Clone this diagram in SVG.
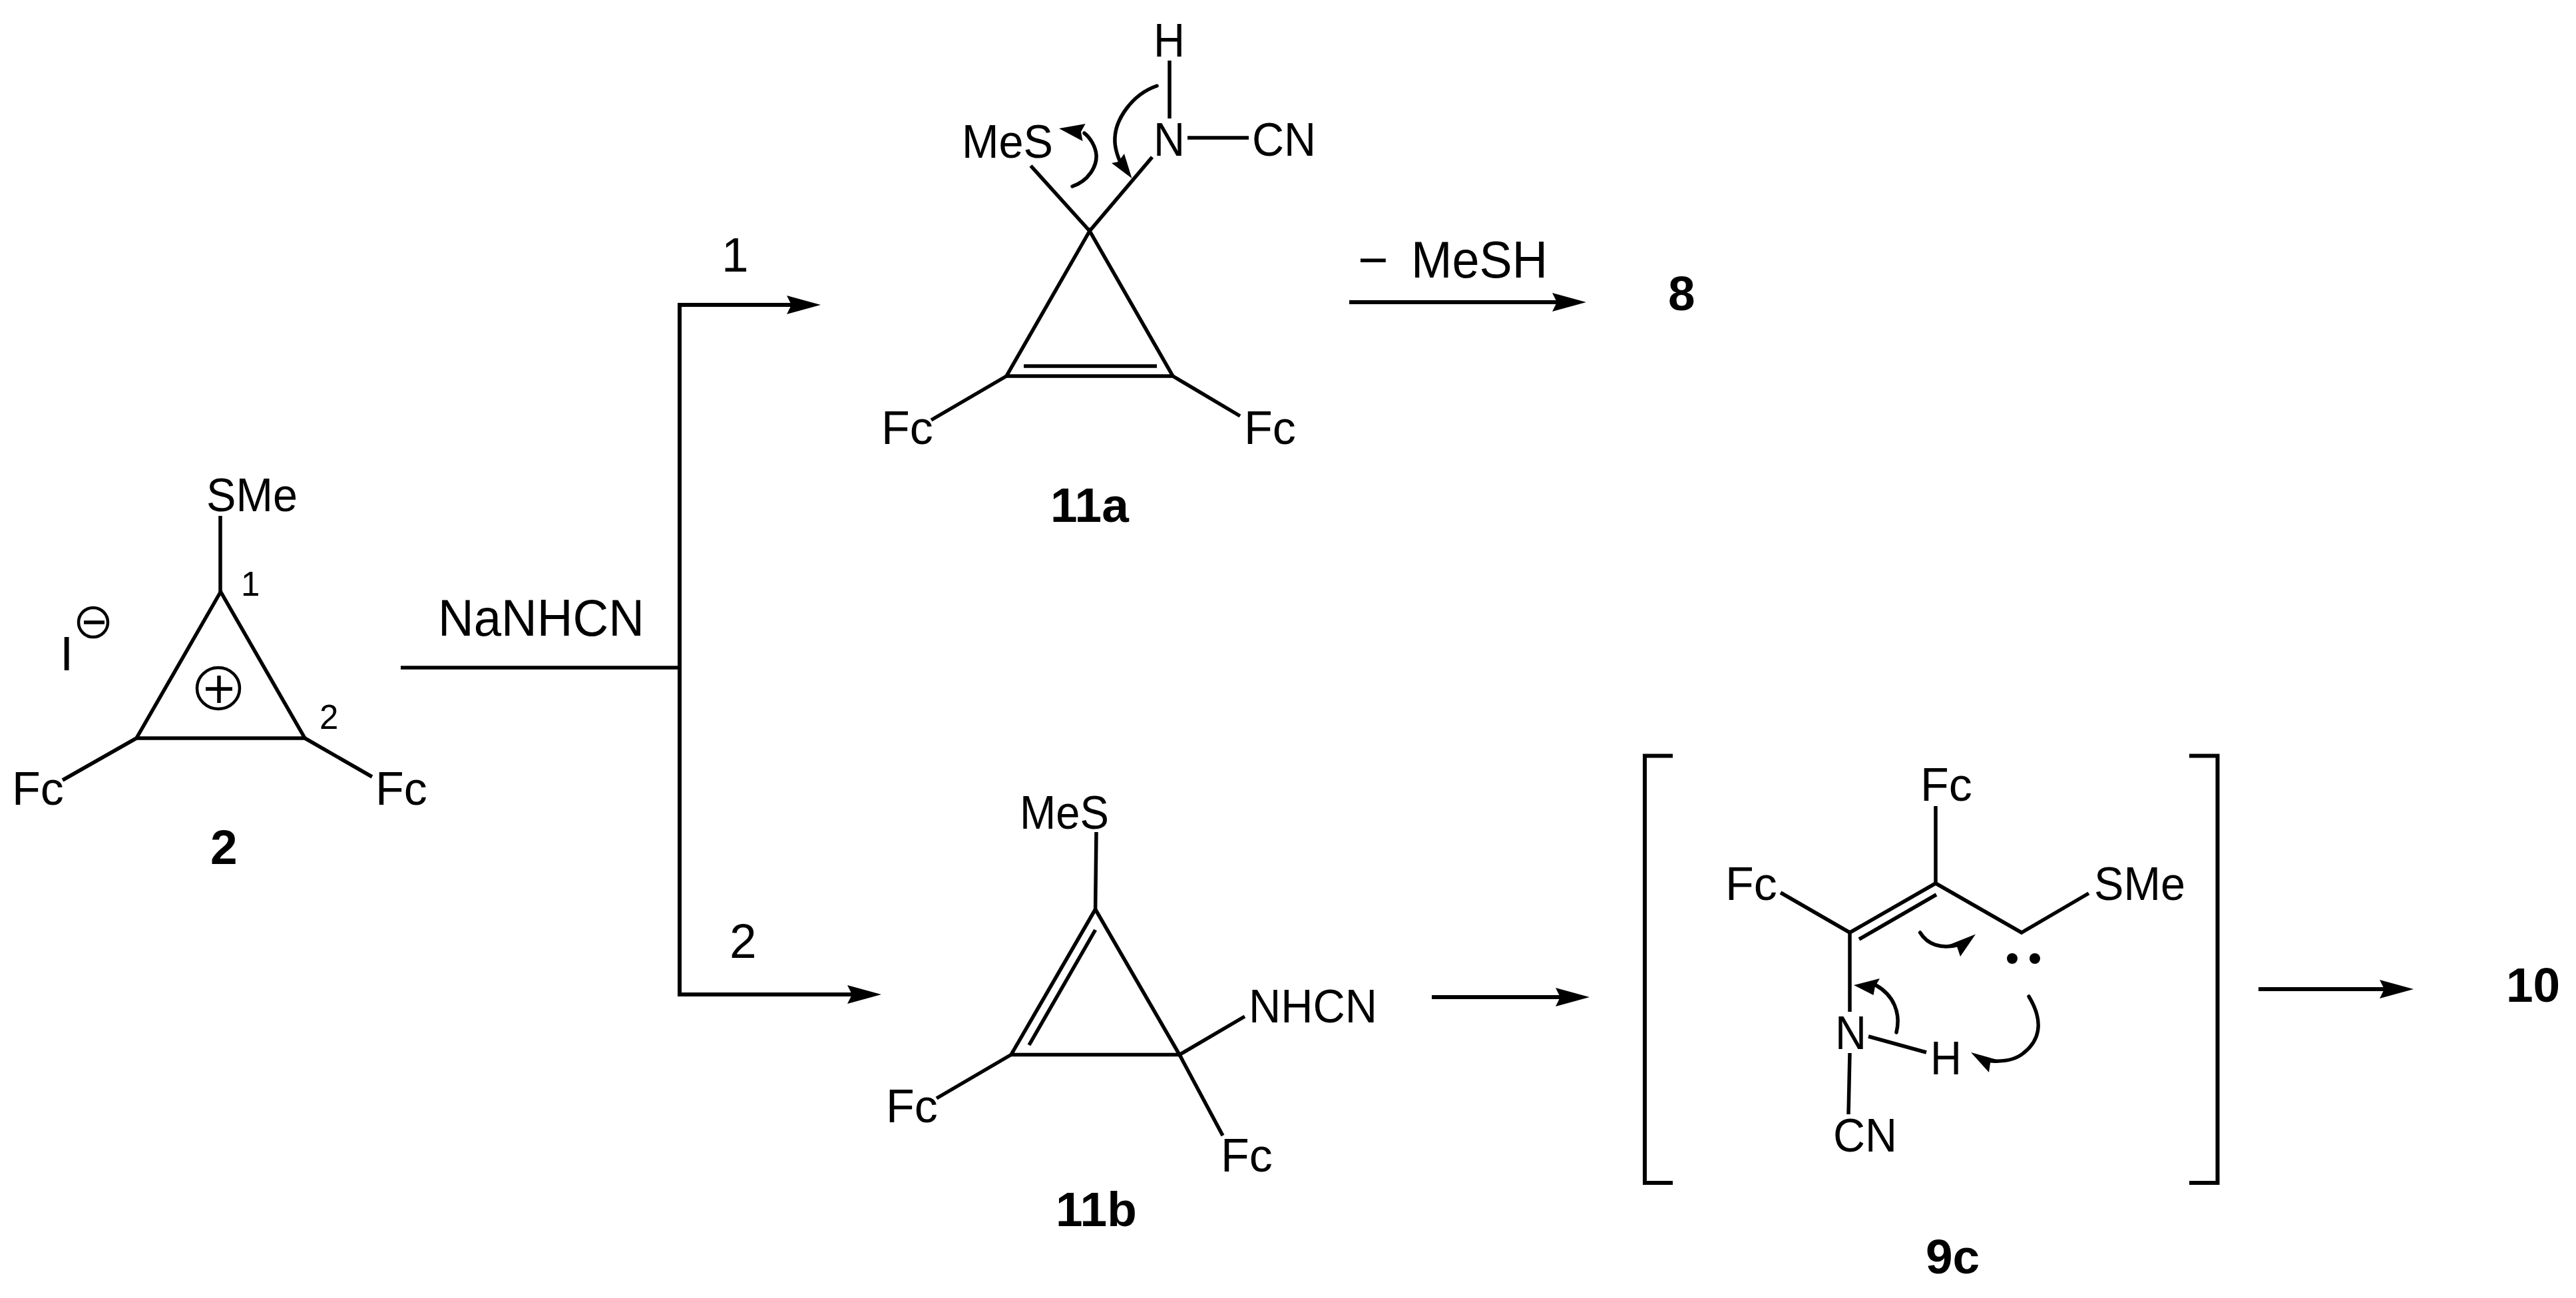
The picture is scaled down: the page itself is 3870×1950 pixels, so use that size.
<svg xmlns="http://www.w3.org/2000/svg" width="3870" height="1950" viewBox="0 0 3870 1950">
<style>
text{font-family:"Liberation Sans",Arial,sans-serif;font-size:70px;fill:#000}
.b{font-weight:700;font-size:73px}
.n{font-size:73px}
.r{font-size:78px}
.s{font-size:51px}
line,polyline{fill:none;stroke:#000;stroke-width:5.5}
.tri{fill:none;stroke:#000;stroke-width:5.5}
.th{stroke-width:6}
path.c{fill:none;stroke:#000;stroke-width:5.5;stroke-linecap:round}
.hd{fill:#000;stroke:none}
ellipse{fill:none;stroke:#000;stroke-width:4.5}
</style>
<defs>
<marker id="ah" markerUnits="userSpaceOnUse" markerWidth="52" markerHeight="30" refX="10" refY="14" orient="auto">
<path d="M0,0 L51,14 L0,28 L7,14Z" fill="#000"/>
</marker>
</defs>
<rect width="3870" height="1950" fill="#fff"/>
<g id="connectors">
<line x1="602" y1="1003" x2="1021" y2="1003"/>
<line class="th" x1="1021" y1="455" x2="1021" y2="1497"/>
<line class="th" x1="1021" y1="458" x2="1192" y2="458" marker-end="url(#ah)"/>
<line class="th" x1="1021" y1="1494" x2="1283" y2="1494" marker-end="url(#ah)"/>
<line class="th" x1="2027" y1="454" x2="2342" y2="454" marker-end="url(#ah)"/>
<line class="th" x1="2151" y1="1498" x2="2347" y2="1498" marker-end="url(#ah)"/>
<line class="th" x1="3393" y1="1486" x2="3585" y2="1486" marker-end="url(#ah)"/>
</g>
<g id="label-nanhcn"><text class="r" x="658" y="955" textLength="310" lengthAdjust="spacingAndGlyphs">NaNHCN</text></g>
<g id="label-route1"><text class="n" x="1084" y="408">1</text></g>
<g id="label-route2"><text class="n" x="1096" y="1439">2</text></g>
<g id="label-mesh">
<text class="r" x="2040" y="417">−</text>
<text class="r" x="2120" y="417" textLength="205" lengthAdjust="spacingAndGlyphs">MeSH</text>
</g>
<g id="compound-2">
<text x="310" y="768" textLength="137" lengthAdjust="spacingAndGlyphs">SMe</text>
<line x1="331" y1="775" x2="331" y2="889"/>
<polygon class="tri" points="331.5,889 205,1109 458,1109"/>
<line x1="205" y1="1109" x2="94" y2="1172"/>
<line x1="458" y1="1109" x2="559" y2="1167"/>
<text x="18" y="1209">Fc</text>
<text x="564" y="1209">Fc</text>
<text class="s" x="362" y="895">1</text>
<text class="s" x="480" y="1095">2</text>
<text class="b" x="316" y="1298">2</text>
<text class="n" x="90" y="1007">I</text>
<ellipse cx="140" cy="935" rx="22" ry="22"/>
<line x1="126" y1="935" x2="157" y2="935"/>
<ellipse cx="328" cy="1034" rx="32" ry="31"/>
<line x1="309" y1="1035" x2="349" y2="1035"/>
<line x1="329" y1="1015" x2="329" y2="1056"/>
</g>
<g id="compound-11a">
<text x="1733" y="85" textLength="47" lengthAdjust="spacingAndGlyphs">H</text>
<text x="1733" y="234" textLength="47" lengthAdjust="spacingAndGlyphs">N</text>
<text x="1881" y="234" textLength="96" lengthAdjust="spacingAndGlyphs">CN</text>
<text x="1445" y="237" textLength="137" lengthAdjust="spacingAndGlyphs">MeS</text>
<line x1="1757" y1="91" x2="1757" y2="178"/>
<line x1="1784" y1="207" x2="1876" y2="207"/>
<line x1="1548.5" y1="249" x2="1637" y2="347"/>
<line x1="1731" y1="236" x2="1637" y2="347"/>
<polygon class="tri" points="1637,347 1512,565 1762,565"/>
<line x1="1538" y1="550" x2="1738" y2="550"/>
<line x1="1512" y1="565" x2="1399" y2="631"/>
<line x1="1762" y1="565" x2="1863" y2="625"/>
<text x="1324" y="667">Fc</text>
<text x="1869" y="667">Fc</text>
<text class="b" x="1578" y="784">11a</text>
<path class="c" d="M1738,129 C1700,142 1676,180 1675,207 C1674,222 1680,238 1686,250"/>
<polygon class="hd" points="1700.5,268 1670,245 1680,243 1689,231"/>
<path class="c" d="M1611,280 C1635,272 1648,250 1647,233 C1646,220 1638,207 1629,200"/>
<polygon class="hd" points="1591,193 1630.6,186 1624,198 1626.5,212"/>
</g>
<g id="compound-8"><text class="b" x="2506" y="466">8</text></g>
<g id="compound-11b">
<text x="1532" y="1245" textLength="134" lengthAdjust="spacingAndGlyphs">MeS</text>
<line x1="1647" y1="1250" x2="1645.6" y2="1366"/>
<polygon class="tri" points="1645.6,1366 1519,1584.5 1772,1584.5"/>
<line x1="1645.6" y1="1397" x2="1546" y2="1570"/>
<line x1="1772" y1="1584.5" x2="1870" y2="1527"/>
<line x1="1772" y1="1584.5" x2="1837" y2="1706"/>
<line x1="1519" y1="1584.5" x2="1407" y2="1650"/>
<text x="1876" y="1536" textLength="193" lengthAdjust="spacingAndGlyphs">NHCN</text>
<text x="1834" y="1760">Fc</text>
<text x="1331" y="1686">Fc</text>
<text class="b" x="1586" y="1842">11b</text>
</g>
<g id="compound-9c">
<polyline class="th" points="2513,1135.5 2471,1135.5 2471,1777 2513,1777"/>
<polyline class="th" points="3289,1135.5 3331.5,1135.5 3331.5,1777 3289,1777"/>
<text x="2885" y="1203">Fc</text>
<line x1="2908" y1="1211" x2="2908" y2="1327"/>
<line x1="2908" y1="1327" x2="2779" y2="1401"/>
<line x1="2909" y1="1344" x2="2793" y2="1411"/>
<text x="2592" y="1352">Fc</text>
<line x1="2675" y1="1341" x2="2779" y2="1401"/>
<polyline points="2908,1327 3037,1401 3138,1342"/>
<text x="3146" y="1352" textLength="137" lengthAdjust="spacingAndGlyphs">SMe</text>
<line x1="2779" y1="1401" x2="2779" y2="1520"/>
<text x="2757" y="1576" textLength="47" lengthAdjust="spacingAndGlyphs">N</text>
<line x1="2807" y1="1557" x2="2894" y2="1581"/>
<text x="2900" y="1614" textLength="47" lengthAdjust="spacingAndGlyphs">H</text>
<line x1="2779" y1="1582" x2="2777" y2="1674"/>
<text x="2754" y="1730" textLength="96" lengthAdjust="spacingAndGlyphs">CN</text>
<text class="b" x="2893" y="1913">9c</text>
<circle cx="3023" cy="1440" r="8"/>
<circle cx="3057" cy="1440" r="8"/>
<path class="c" d="M2884.6,1401 C2895,1418 2915,1427 2944,1419"/>
<polygon class="hd" points="2968,1403.5 2929,1419 2940,1422 2945,1437"/>
<path class="c" d="M2849,1551 C2856,1522 2845,1495 2818,1480"/>
<polygon class="hd" points="2785,1480 2824,1470 2817,1482 2814.5,1495"/>
<path class="c" d="M3048,1497 C3068,1530 3068,1560 3040,1582 C3028,1592 3012,1595 2993,1594"/>
<polygon class="hd" points="2961,1581 3000,1592 2990,1597 2988,1611"/>
</g>
<g id="compound-10"><text class="b" x="3765" y="1505">10</text></g>
</svg>
